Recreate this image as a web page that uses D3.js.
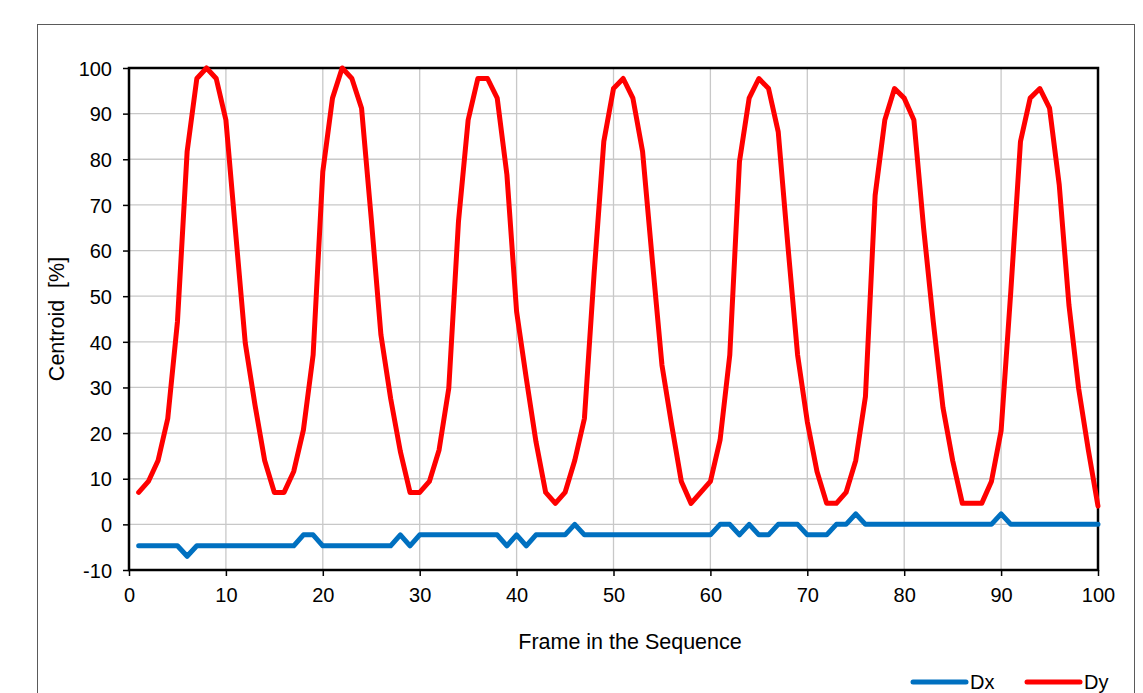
<!DOCTYPE html>
<html>
<head>
<meta charset="utf-8">
<script src="https://cdn.jsdelivr.net/npm/d3@7"></script>
<style>
  body { margin: 0; background: #fff; }
  text { font-family: "Liberation Sans", Arial, sans-serif; fill: #000; white-space: pre; }
</style>
</head>
<body>
<div id="chart"></div>
<script>

// frames 1..100
var frames = d3.range(1, 101);

var dxValues = [
  -4.7, -4.7, -4.7, -4.7, -4.7, -7, -4.7, -4.7, -4.7, -4.7,
  -4.7, -4.7, -4.7, -4.7, -4.7, -4.7, -4.7, -2.3, -2.3, -4.7,
  -4.7, -4.7, -4.7, -4.7, -4.7, -4.7, -4.7, -2.3, -4.7, -2.3,
  -2.3, -2.3, -2.3, -2.3, -2.3, -2.3, -2.3, -2.3, -4.7, -2.3,
  -4.7, -2.3, -2.3, -2.3, -2.3, 0, -2.3, -2.3, -2.3, -2.3,
  -2.3, -2.3, -2.3, -2.3, -2.3, -2.3, -2.3, -2.3, -2.3, -2.3,
  0, 0, -2.3, 0, -2.3, -2.3, 0, 0, 0, -2.3,
  -2.3, -2.3, 0, 0, 2.3, 0, 0, 0, 0, 0,
  0, 0, 0, 0, 0, 0, 0, 0, 0, 2.3,
  0, 0, 0, 0, 0, 0, 0, 0, 0, 0
];

var dyValues = [
  7, 9.4, 14, 23.2, 44.4, 81.7, 97.7, 100, 97.7, 88.6,
  64, 39.7, 26.2, 14, 7, 7, 11.6, 20.7, 37.1, 77.3,
  93.4, 100, 97.7, 91.2, 67, 41.5, 27.6, 16, 7, 7,
  9.4, 16.3, 29.8, 66.3, 88.6, 97.7, 97.7, 93.4, 76.6, 46.6,
  32, 18.1, 7, 4.6, 7, 14, 23.2, 55, 83.9, 95.5,
  97.7, 93.4, 81.7, 58, 34.9, 21.8, 9.4, 4.6, 7, 9.4,
  18.5, 37.1, 79.5, 93.4, 97.7, 95.5, 86, 61, 37.1, 22.5,
  11.6, 4.6, 4.6, 7, 14, 28, 72.1, 88.6, 95.5, 93.4,
  88.6, 65, 44.4, 25.6, 14, 4.6, 4.6, 4.6, 9.4, 20.5,
  51, 83.9, 93.4, 95.5, 91.2, 74.4, 48.1, 29.8, 16.3, 4
];

var seriesNames = ["Dx", "Dy"];
var seriesColors = ["#0070C0", "#FF0000"];
var xTicks = d3.range(0, 101, 10);
var yTicks = d3.range(-10, 101, 10);

var W = 1143, H = 693;
var margin = {top: 68, right: 45, bottom: 123, left: 129};
var width = W - margin.left - margin.right,
    height = H - margin.top - margin.bottom;

var svg = d3.select("#chart").append("svg")
    .attr("width", W)
    .attr("height", H);

// outer chart frame
svg.append("rect")
    .attr("x", 37.5)
    .attr("y", 24.5)
    .attr("width", 1097)
    .attr("height", 700)
    .attr("fill", "none")
    .attr("stroke", "#5a5a5a")
    .attr("stroke-width", 1);

var g = svg.append("g")
    .attr("transform", "translate(" + margin.left + "," + margin.top + ")");

var x = d3.scaleLinear().domain([0, 100]).range([0, width]);
var y = d3.scaleLinear().domain([-10, 100]).range([height, 0]);

// gridlines
g.append("g").selectAll("line.hgrid")
    .data(yTicks)
    .enter().append("line")
    .attr("class", "hgrid")
    .attr("x1", 0).attr("x2", width)
    .attr("y1", function(d) { return y(d); })
    .attr("y2", function(d) { return y(d); })
    .attr("stroke", "#c8c8c8")
    .attr("stroke-width", 1.3);

g.append("g").selectAll("line.vgrid")
    .data(xTicks)
    .enter().append("line")
    .attr("class", "vgrid")
    .attr("x1", function(d) { return x(d); })
    .attr("x2", function(d) { return x(d); })
    .attr("y1", 0).attr("y2", height)
    .attr("stroke", "#c8c8c8")
    .attr("stroke-width", 1.3);

// axes (plain hyphen for negatives, like the original)
var fmt = function(d) { return String(d); };
var xAxis = g.append("g")
    .attr("transform", "translate(0," + height + ")")
    .call(d3.axisBottom(x).tickValues(xTicks).tickFormat(fmt).tickSize(6).tickSizeOuter(0));
var yAxis = g.append("g")
    .call(d3.axisLeft(y).tickValues(yTicks).tickFormat(fmt).tickSize(6).tickSizeOuter(0));

[xAxis, yAxis].forEach(function(a) {
    a.select(".domain").remove();
    a.selectAll("line").attr("stroke", "#000").attr("stroke-width", 1.5);
    a.selectAll("text")
        .style("font-family", '"Liberation Sans", Arial, sans-serif')
        .style("font-size", "20px")
        .attr("fill", "#000");
});
xAxis.selectAll("text").attr("y", 32).attr("dy", null);
yAxis.selectAll("text").attr("x", -17).attr("dy", "0.36em");

// plot area border
g.append("rect")
    .attr("width", width)
    .attr("height", height)
    .attr("fill", "none")
    .attr("stroke", "#000")
    .attr("stroke-width", 2.5);

// lines
var line = d3.line()
    .x(function(d) { return x(d[0]); })
    .y(function(d) { return y(d[1]); });

var series = [dxValues, dyValues].map(function(vals, i) {
    return {name: seriesNames[i], color: seriesColors[i],
            pts: frames.map(function(f, j) { return [f, vals[j]]; })};
});

g.selectAll(".series")
    .data(series)
    .enter().append("path")
    .attr("class", "series")
    .attr("d", function(d) { return line(d.pts); })
    .attr("fill", "none")
    .attr("stroke", function(d) { return d.color; })
    .attr("stroke-width", 5)
    .attr("stroke-linejoin", "round")
    .attr("stroke-linecap", "round");

// axis titles
svg.append("text")
    .attr("transform", "translate(64," + (margin.top + height / 2) + ") rotate(-90)")
    .attr("text-anchor", "middle")
    .style("font-size", "21.5px")
    .text("Centroid  [%]");

svg.append("text")
    .attr("x", 630)
    .attr("y", 649)
    .attr("text-anchor", "middle")
    .style("font-size", "21.5px")
    .text("Frame in the Sequence");

// legend
var legend = svg.append("g").selectAll("g")
    .data(series)
    .enter().append("g")
    .attr("transform", function(d, i) { return "translate(" + (913 + i * 114) + ",682)"; });

legend.append("line")
    .attr("x1", 0).attr("x2", 53)
    .attr("stroke", function(d) { return d.color; })
    .attr("stroke-width", 5)
    .attr("stroke-linecap", "round");

legend.append("text")
    .attr("x", 57)
    .attr("dy", "0.36em")
    .style("font-size", "20px")
    .text(function(d) { return d.name; });

</script>
</body>
</html>
